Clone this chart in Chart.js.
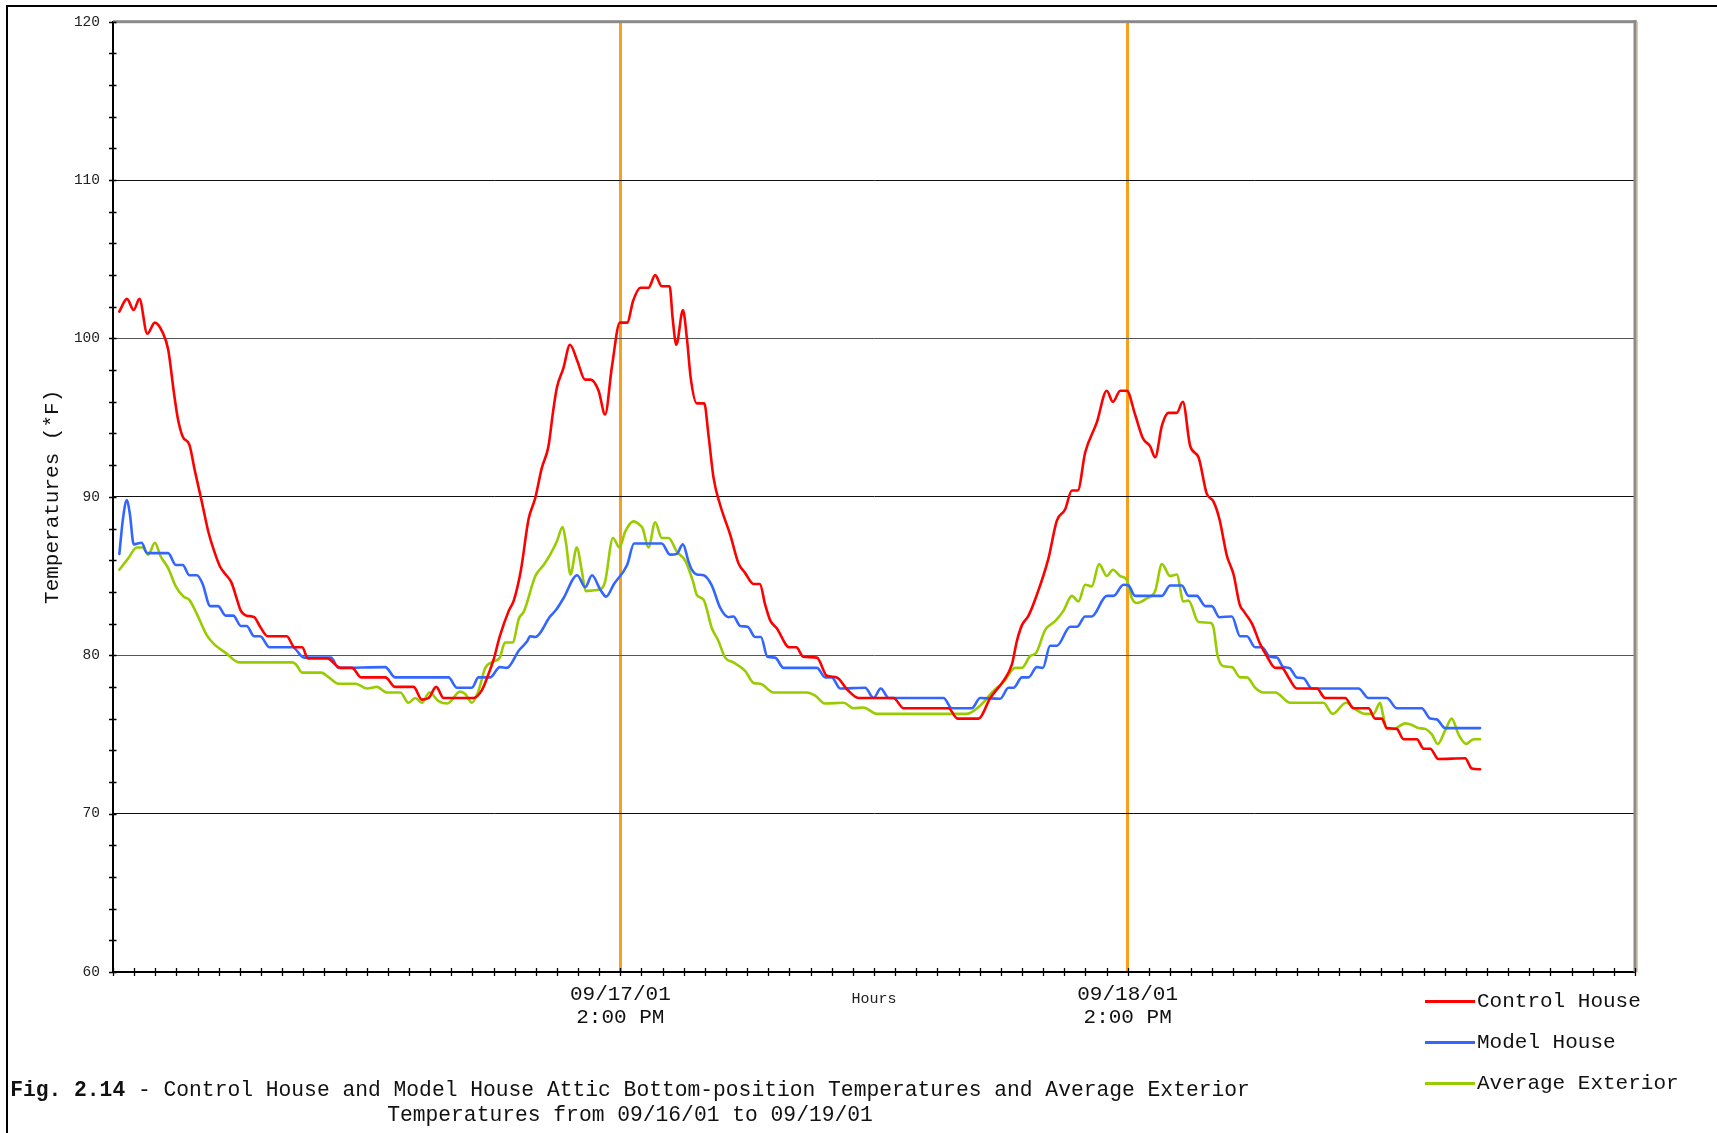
<!DOCTYPE html>
<html>
<head>
<meta charset="utf-8">
<script src="https://cdn.jsdelivr.net/npm/chart.js@4.4.1/dist/chart.umd.min.js"></script>
<style>
html,body{margin:0;padding:0;background:#fff;overflow:hidden;}
#wrap{position:relative;width:1717px;height:1133px;overflow:hidden;}
#frame{position:absolute;left:6px;top:5px;width:1800px;height:1300px;border-left:2px solid #000;border-top:2px solid #000;}
#chartBox{position:absolute;left:0;top:0;width:1717px;height:1133px;}
#legend{position:absolute;left:0;top:0;width:0;height:0;font-family:"Liberation Mono","Courier New",monospace;font-size:21px;color:#111;}
.lrow{position:absolute;height:25px;line-height:25px;white-space:nowrap;}
.lsw{position:absolute;left:0;top:11px;width:50px;height:3px;}
.ltx{position:absolute;left:52px;top:0;}
#caption{position:absolute;left:0;top:1078px;width:1260px;text-align:center;font-family:"Liberation Mono","Courier New",monospace;font-size:21.3px;line-height:25.2px;white-space:pre;color:#111;}
</style>
</head>
<body>
<div id="wrap">
  <div id="frame"></div>
  <div id="chartBox"><canvas id="c"></canvas></div>
  <div id="legend"></div>
  <div id="caption"></div>
</div>
<script>
// ---------------- DATA ----------------
const seriesNames = ["Control House", "Model House", "Average Exterior"];

const controlHours = [0.30,0.66,0.98,1.25,1.62,1.98,2.34,2.61,2.88,3.06,3.30,3.61,3.88,4.20,4.51,4.78,5.06,5.33,5.60,5.87,6.05,6.32,6.68,6.96,7.32,8.22,8.59,8.95,9.22,10.13,10.76,11.30,11.75,12.88,13.35,14.22,14.61,14.93,15.29,15.64,17.05,17.45,17.76,18.00,18.30,18.72,18.97,19.30,19.66,19.97,20.28,20.60,20.82,21.00,21.30,21.62,21.96,22.33,22.60,22.97,23.28,23.60,23.98,24.32,24.61,24.95,25.33,25.65,25.96,26.33,26.48,26.65,26.96,27.15,27.33,27.62,27.97,28.17,28.41,28.72,29.20,29.59,29.90,30.30,30.60,30.85,31.09,31.40,32.00,32.32,32.66,33.30,33.77,34.24,34.72,35.27,36.92,37.40,39.52,39.95,40.94,41.50,42.13,42.52,42.76,43.00,43.31,43.70,44.25,44.65,45.04,45.36,45.64,45.99,46.54,47.01,47.30,47.65,47.96,48.35,48.72,49.06,49.30,49.62,49.93,50.32,50.61,50.96,51.35,51.74,52.06,52.34,52.69,53.01,53.30,53.48,53.88,54.27,54.58,54.98,55.29,55.61,56.00,56.95,57.34,58.29,58.68,59.39,59.71,60.02,60.26,60.73,61.05,61.68,62.00,62.31,62.70,63.96,64.28,64.67];
const controlTemps = [101.7,102.5,101.8,102.5,100.3,101.0,100.4,99.3,96.6,95.0,93.8,93.3,91.6,89.7,87.8,86.6,85.6,85.1,84.6,83.5,82.8,82.5,82.4,81.8,81.2,81.2,80.5,80.5,79.8,79.8,79.2,79.2,78.6,78.6,78.0,78.0,77.2,77.3,78.0,77.3,77.3,77.8,78.8,79.7,81.2,82.8,83.5,85.4,88.6,89.9,91.8,93.2,95.4,96.9,98.1,99.6,98.6,97.4,97.4,96.7,95.2,98.2,101.0,101.0,102.4,103.2,103.2,104.0,103.3,103.3,101.2,99.6,101.8,100.0,97.5,95.9,95.9,93.9,91.2,89.5,87.6,85.8,85.2,84.5,84.5,83.2,82.2,81.7,80.5,80.5,79.9,79.85,78.7,78.6,77.85,77.3,77.3,76.65,76.65,76.0,76.0,77.3,78.4,79.4,80.9,81.9,82.5,83.8,86.1,88.5,89.2,90.4,90.4,92.8,94.7,96.7,96.0,96.7,96.7,95.2,93.7,93.2,92.5,94.5,95.3,95.3,96.0,93.2,92.5,90.2,89.7,88.6,86.3,85.1,83.2,82.8,82.0,80.7,79.95,79.2,79.2,78.6,77.9,77.9,77.3,77.3,76.65,76.65,76.0,76.0,75.4,75.35,74.7,74.7,74.1,74.1,73.45,73.5,72.85,72.8];

const modelHours = [0.30,0.48,0.66,0.80,0.98,1.35,1.62,2.61,2.97,3.30,3.61,3.97,4.24,4.60,4.97,5.33,5.69,6.05,6.32,6.68,6.96,7.41,8.49,9.04,10.31,10.67,12.88,13.35,15.87,16.27,16.98,17.29,17.84,18.30,18.63,19.20,19.60,19.73,19.97,20.68,20.98,21.31,21.96,22.34,22.66,23.05,23.33,23.70,24.32,24.65,24.94,25.96,26.35,26.67,26.96,27.23,27.38,27.62,27.94,28.33,28.72,29.12,29.35,29.67,30.02,30.38,30.65,30.96,31.32,31.72,33.30,33.69,34.00,34.40,35.58,35.98,36.32,36.69,39.29,39.68,40.63,41.02,41.97,42.36,42.60,43.00,43.31,43.70,43.99,44.33,44.65,45.28,45.60,45.99,46.30,47.01,47.33,47.80,48.04,48.35,49.62,50.01,50.56,50.88,51.27,51.67,51.98,52.34,52.93,53.32,53.64,54.03,54.35,54.74,55.06,55.37,55.65,56.00,56.32,56.71,58.92,59.39,60.26,60.73,61.91,62.31,62.62,63.02,64.67];
const modelTemps = [86.4,88.7,89.8,88.9,87.0,87.1,86.45,86.45,85.7,85.7,85.05,85.05,84.5,83.1,83.1,82.5,82.5,81.85,81.85,81.2,81.2,80.5,80.5,79.85,79.85,79.2,79.25,78.6,78.6,77.95,77.95,78.6,78.6,79.25,79.2,80.3,80.9,81.2,81.15,82.45,82.9,83.6,85.05,84.3,85.05,84.15,83.7,84.5,85.7,87.05,87.05,87.05,86.35,86.4,87.0,85.9,85.4,85.1,85.05,84.4,83.0,82.4,82.45,81.85,81.8,81.15,81.15,79.9,79.85,79.2,79.2,78.6,78.6,77.9,77.95,77.3,77.9,77.3,77.3,76.65,76.65,77.3,77.25,77.95,77.95,78.6,78.6,79.25,79.2,80.6,80.6,81.8,81.8,82.45,82.45,83.75,83.75,84.45,84.4,83.75,83.75,84.4,84.4,83.75,83.75,83.1,83.1,82.4,82.45,81.2,81.2,80.5,80.5,79.9,79.85,79.25,79.2,78.6,78.55,77.9,77.9,77.3,77.3,76.65,76.65,76.0,75.95,75.4,75.4];

const exteriorHours = [0.30,0.71,1.13,1.40,1.67,1.98,2.25,2.61,2.97,3.34,3.61,3.97,4.42,4.78,5.33,5.96,8.49,8.67,8.95,9.85,10.21,10.67,11.48,12.02,12.48,12.95,13.59,13.98,14.30,14.61,14.97,15.40,15.82,16.42,16.66,16.98,17.29,17.61,18.00,18.30,18.54,18.90,19.20,19.45,19.98,20.37,20.68,21.00,21.27,21.44,21.64,21.94,22.18,22.36,22.75,23.10,23.28,23.65,23.96,24.23,24.62,24.94,25.06,25.33,25.65,25.96,26.28,26.67,27.10,27.45,27.62,27.94,28.33,28.64,28.96,29.35,29.91,30.30,30.62,31.25,32.82,33.22,33.69,34.56,35.03,35.50,36.13,40.39,41.05,41.65,42.13,42.68,43.00,43.39,43.67,44.10,44.57,44.96,45.36,45.67,45.99,46.30,46.65,47.01,47.30,47.65,47.96,48.20,48.43,48.91,49.30,49.62,50.01,50.32,50.64,50.88,51.35,51.90,52.06,52.25,52.53,52.93,53.32,53.64,54.03,54.42,54.98,55.69,57.26,57.70,58.33,58.76,59.23,59.63,59.94,60.07,60.26,60.58,61.13,61.44,61.76,62.07,62.39,62.67,63.02,63.33,63.65,64.01,64.36,64.67];
const exteriorTemps = [85.4,86.1,86.8,86.8,86.35,87.1,86.25,85.5,84.35,83.7,83.5,82.6,81.3,80.7,80.15,79.55,79.55,79.4,78.9,78.9,78.6,78.2,78.2,77.9,78.0,77.65,77.65,77.0,77.3,77.0,77.65,77.1,76.95,77.7,77.55,77.0,77.75,79.2,79.6,79.85,80.8,80.8,82.3,82.8,85.0,85.7,86.35,87.2,88.1,87.0,85.1,86.8,85.3,84.05,84.1,84.2,84.65,87.4,86.8,87.8,88.45,88.2,88.0,86.8,88.4,87.4,87.4,86.55,85.9,84.6,83.8,83.5,81.7,80.9,79.85,79.55,79.0,78.25,78.2,77.65,77.65,77.45,76.95,77.0,76.65,76.7,76.3,76.3,76.85,77.75,78.3,79.2,79.2,79.95,80.15,81.6,82.15,82.8,83.75,83.4,84.45,84.35,85.75,85.0,85.4,85.0,84.75,83.6,83.3,83.6,84.05,85.75,85.0,85.1,83.4,83.45,82.1,82.05,81.75,80.0,79.3,79.25,78.6,78.6,77.95,77.65,77.65,77.0,77.0,76.3,77.0,76.6,76.3,76.3,77.0,76.3,75.35,75.35,75.7,75.6,75.4,75.35,75.0,74.4,75.25,76.0,75.0,74.4,74.7,74.7];

const xTickHours = [24, 48];
const xTickLabels = [["09/17/01", "2:00 PM"], ["09/18/01", "2:00 PM"]];
const yMajorValues = [70, 80, 90, 100, 110];
const captionBold = "Fig. 2.14";
const captionLines = [" - Control House and Model House Attic Bottom-position Temperatures and Average Exterior", "Temperatures from 09/16/01 to 09/19/01"];

// ---------------- STYLE ----------------
const seriesColors = ["#ff0000", "#3366ff", "#99cc00"];
const orange = "#f8a01b";
const yGridColors = {70: "#111", 80: "#555", 90: "#111", 100: "#555", 110: "#111"};
const MONO = '"Liberation Mono", "Courier New", monospace';

function toPoints(hs, ts) { return hs.map((h, i) => ({x: h, y: ts[i]})); }

Chart.defaults.font.family = MONO;
Chart.defaults.color = "#111";

const decor = {
  id: "decor",
  afterDatasetsDraw(chart) {
    const {ctx, chartArea: a, scales: {x, y}} = chart;
    ctx.save();
    ctx.fillStyle = "#8a8a8a";
    ctx.fillRect(a.left, a.top - 1.5, a.right - a.left + 1.5, 3);
    ctx.fillRect(a.right - 1.5, a.top - 1.5, 3, a.bottom - a.top + 1.5);
    ctx.fillStyle = "#c9ab7e";
    ctx.fillRect(a.right + 1.5, a.top, 1.2, a.bottom - a.top);
    ctx.strokeStyle = "#000";
    ctx.lineWidth = 1.3;
    ctx.beginPath();
    x.ticks.forEach(t => {
      const px = Math.round(x.getPixelForValue(t.value)) + 0.5;
      ctx.moveTo(px, a.bottom - 4); ctx.lineTo(px, a.bottom + 4);
    });
    y.ticks.forEach(t => {
      const py = Math.round(y.getPixelForValue(t.value)) + 0.5;
      ctx.moveTo(a.left - 4, py); ctx.lineTo(a.left + 3.5, py);
    });
    ctx.stroke();
    ctx.restore();
  }
};

const datasets = [
  toPoints(controlHours, controlTemps),
  toPoints(modelHours, modelTemps),
  toPoints(exteriorHours, exteriorTemps)
].map((d, i) => ({
  label: seriesNames[i],
  data: d,
  borderColor: seriesColors[i],
  backgroundColor: seriesColors[i],
  borderWidth: 2.6,
  pointRadius: 0,
  fill: false,
  cubicInterpolationMode: "monotone",
  borderJoinStyle: "round",
  borderCapStyle: "round"
}));

const chart = new Chart(document.getElementById("c"), {
  type: "line",
  data: {datasets},
  options: {
    responsive: true,
    maintainAspectRatio: false,
    animation: false,
    events: [],
    layout: {padding: {left: 0, top: 19, right: 82, bottom: 91}},
    plugins: {legend: {display: false}, tooltip: {enabled: false}, title: {display: false}},
    scales: {
      x: {
        type: "linear", min: 0, max: 72,
        afterFit(s) { s.height = 70; },
        border: {display: true, color: "#000", width: 2},
        grid: {
          drawTicks: false,
          color: c => xTickHours.includes(c.tick.value) ? orange : "rgba(0,0,0,0)",
          lineWidth: c => xTickHours.includes(c.tick.value) ? 3 : 1
        },
        ticks: {
          stepSize: 1, autoSkip: false, maxRotation: 0, minRotation: 0, padding: 11,
          color: "#111", font: {size: 21, lineHeight: 1.1},
          callback: v => { const i = xTickHours.indexOf(v); return i >= 0 ? xTickLabels[i] : ""; }
        },
        title: {display: true, text: "Hours", color: "#222", font: {size: 15, lineHeight: 1.2}, padding: {top: 0, bottom: 34}}
      },
      y: {
        min: 60, max: 120,
        afterFit(s) { s.width = 113; },
        border: {display: true, color: "#000", width: 2},
        grid: {
          drawTicks: false,
          color: c => yGridColors[c.tick.value] || "rgba(0,0,0,0)",
          lineWidth: 1
        },
        ticks: {
          stepSize: 2, autoSkip: false, padding: 13, color: "#222", font: {size: 14.5},
          callback: v => (v % 10 === 0 ? String(v) : "")
        },
        title: {display: true, text: "Temperatures (*F)", color: "#111", font: {size: 21, lineHeight: 1.2}, padding: {top: 40, bottom: 0}}
      }
    }
  },
  plugins: [decor]
});

// HTML legend built from the chart's datasets
const legendEl = document.getElementById("legend");
chart.data.datasets.forEach((ds, i) => {
  const row = document.createElement("div");
  row.className = "lrow";
  row.style.left = "1425px";
  row.style.top = (988.5 + i * 41) + "px";
  const sw = document.createElement("div");
  sw.className = "lsw";
  sw.style.background = ds.borderColor;
  const tx = document.createElement("div");
  tx.className = "ltx";
  tx.textContent = ds.label;
  row.appendChild(sw); row.appendChild(tx);
  legendEl.appendChild(row);
});

// Caption
const cap = document.getElementById("caption");
const b = document.createElement("b");
b.textContent = captionBold;
cap.appendChild(b);
cap.appendChild(document.createTextNode(captionLines[0] + "\n" + captionLines[1]));
</script>
</body>
</html>
